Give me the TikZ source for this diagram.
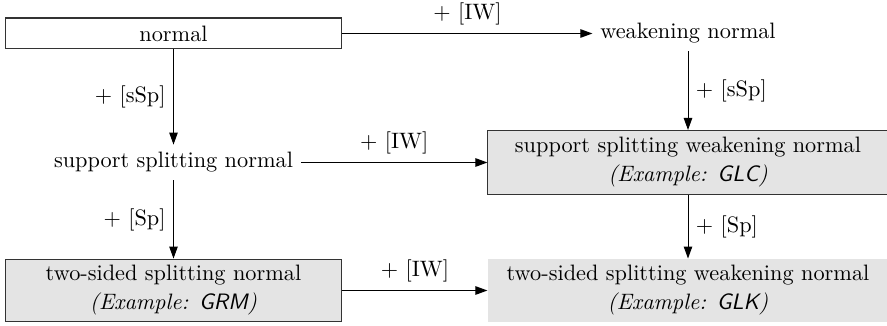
\documentclass[tikz,border=0pt]{standalone}
\usetikzlibrary{arrows.meta}
\definecolor{boxgray}{RGB}{228,228,228}
\begin{document}
\begin{tikzpicture}[x=0.4484pt,y=-0.4484pt,
  conn/.style={-{Triangle[length=5.4pt,width=3.8pt]},line width=0.45pt},
  plain/.style={inner sep=3.33pt},
  framebox/.style={draw=black!80,line width=0.45pt,inner sep=0pt,align=center},
  lab/.style={font=\normalsize}]
\useasboundingbox (0,0) rectangle (887,326);
\node[framebox,minimum width=151.1pt,minimum height=13.9pt] (n) at (173.5,33.5) {normal};
\node[plain] (w) at (688,33.5) {weakening normal};
\node[plain] (s) at (173.5,162.5) {support splitting normal};
\node[framebox,fill=boxgray,minimum width=179.4pt,minimum height=28.7pt] (sw) at (688,162.5)
  {support splitting weakening normal\\[1pt] \textit{(Example: \textsf{GLC})}};
\node[framebox,fill=boxgray,minimum width=151.1pt,minimum height=28.2pt] (t) at (173.5,290.5)
  {two-sided splitting normal\\[1pt] \textit{(Example: \textsf{GRM})}};
\node[framebox,draw=none,fill=boxgray,minimum width=179.4pt,minimum height=28.2pt] (tw) at (688,290.5)
  {two-sided splitting weakening normal\\[1pt] \textit{(Example: \textsf{GLK})}};
\draw[conn] (n.east) -- node[above,lab] {+ [IW]} (w.west);
\draw[conn] (n.south) -- node[left,lab] {+ [sSp]} (s.north);
\draw[conn] (w.south) -- node[right,lab] {+ [sSp]} (sw.north);
\draw[conn] (s.east) -- node[above,lab] {+ [IW]} (sw.west);
\draw[conn] (s.south) -- node[left,lab] {+ [Sp]} (t.north);
\draw[conn] (sw.south) -- node[right,lab] {+ [Sp]} (tw.north);
\draw[conn] (t.east) -- node[above,lab] {+ [IW]} (tw.west);
\end{tikzpicture}
\end{document}
